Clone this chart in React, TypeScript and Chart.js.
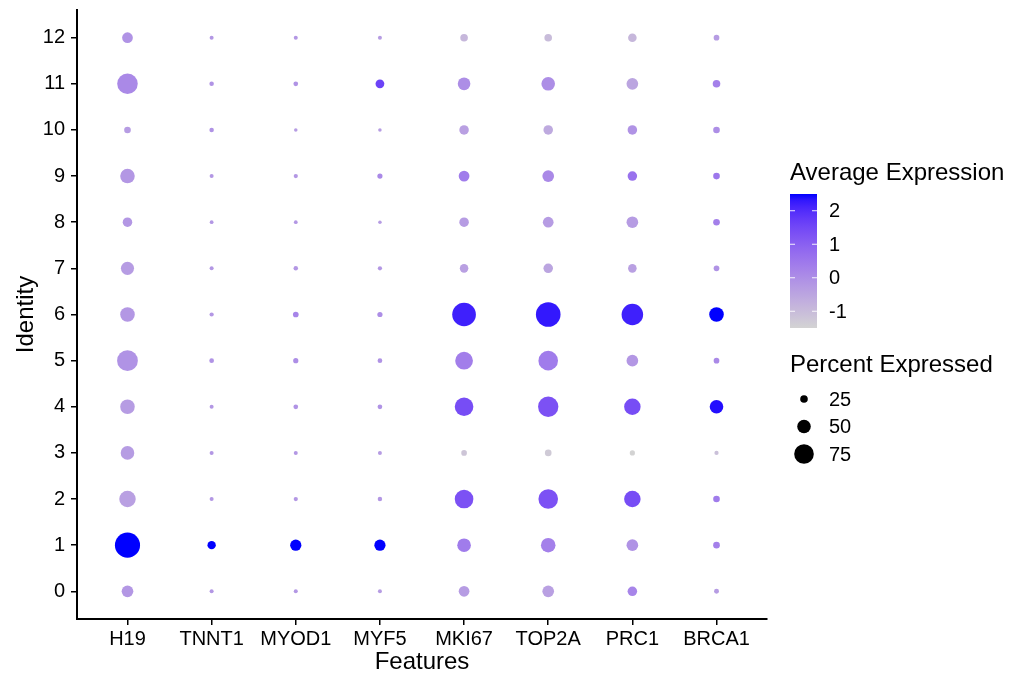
import React, { useEffect, useRef } from "react";
import { Chart, registerables } from "chart.js";

Chart.register(...registerables);

const genes = ["H19", "TNNT1", "MYOD1", "MYF5", "MKI67", "TOP2A", "PRC1", "BRCA1"];
const clusters = [0, 1, 2, 3, 4, 5, 6, 7, 8, 9, 10, 11, 12];

// Percent expressed per cluster (0..12)
const pct_H19 = [42, 98, 62, 50, 54, 80, 54, 48, 33, 54, 21, 79, 38];
const pct_TNNT1 = [10, 28, 10, 10, 10, 13, 11, 10, 9, 10, 12, 12, 10];
const pct_MYOD1 = [10, 40, 11, 10, 13, 15, 17, 12, 9, 11, 8, 13, 10];
const pct_MYF5 = [10, 40, 12, 10, 13, 13, 15, 11, 8, 15, 8, 30, 10];
const pct_MKI67 = [38, 50, 71, 17, 71, 67, 92, 29, 33, 38, 33, 46, 25];
const pct_TOP2A = [42, 54, 75, 21, 78, 75, 96, 33, 38, 42, 33, 50, 25];
const pct_PRC1 = [33, 42, 62, 15, 62, 42, 83, 29, 42, 33, 33, 42, 29];
const pct_BRCA1 = [14, 21, 21, 11, 50, 17, 54, 17, 21, 21, 21, 25, 17];

// Average (scaled) expression per cluster (0..12)
const avg_H19 = [-0.2, 2.5, -0.4, -0.3, -0.3, -0.1, -0.2, -0.3, -0.2, -0.2, -0.3, 0.1, -0.1];
const avg_TNNT1 = [-0.2, 2.5, -0.2, -0.2, -0.2, -0.1, -0.2, -0.2, -0.2, -0.2, -0.1, -0.1, -0.2];
const avg_MYOD1 = [-0.2, 2.5, -0.2, -0.2, -0.1, 0.0, 0.2, -0.2, -0.2, -0.2, -0.3, -0.1, -0.2];
const avg_MYF5 = [-0.3, 2.5, -0.2, -0.3, -0.1, -0.1, 0.0, -0.2, -0.3, 0.1, -0.3, 1.6, -0.3];
const avg_MKI67 = [-0.3, 0.4, 1.3, -1.2, 1.4, 0.35, 2.2, -0.4, -0.3, 0.4, -0.4, 0.0, -0.9];
const avg_TOP2A = [-0.4, 0.3, 1.3, -1.3, 1.3, 0.4, 2.3, -0.5, -0.3, 0.1, -0.6, 0.0, -1.0];
const avg_PRC1 = [0.2, -0.1, 1.4, -1.5, 1.4, -0.2, 2.2, -0.4, -0.3, 0.6, -0.1, -0.5, -0.9];
const avg_BRCA1 = [-0.3, 0.3, 0.4, -1.1, 2.4, 0.1, 2.5, -0.1, 0.3, 0.5, 0.0, 0.3, -0.3];

const pctByGene = [pct_H19, pct_TNNT1, pct_MYOD1, pct_MYF5, pct_MKI67, pct_TOP2A, pct_PRC1, pct_BRCA1];
const avgByGene = [avg_H19, avg_TNNT1, avg_MYOD1, avg_MYF5, avg_MKI67, avg_TOP2A, avg_PRC1, avg_BRCA1];

const colorRange = [-1.5, 2.5];
const colorTicks = [-1, 0, 1, 2];
const sizeBreaks = [25, 50, 75];

const FONT = "'Liberation Sans', Arial, Helvetica, sans-serif";

// ---- colour: lightgrey -> blue interpolated in CIE Lab (like ggplot) ----
function toLab(hex: string) {
  const r0 = parseInt(hex.slice(1, 3), 16) / 255;
  const g0 = parseInt(hex.slice(3, 5), 16) / 255;
  const b0 = parseInt(hex.slice(5, 7), 16) / 255;
  const lin = (c: number) => (c <= 0.04045 ? c / 12.92 : Math.pow((c + 0.055) / 1.055, 2.4));
  const r = lin(r0), g = lin(g0), b = lin(b0);
  const X = (0.4124564 * r + 0.3575761 * g + 0.1804375 * b) / 0.95047;
  const Y = 0.2126729 * r + 0.7151522 * g + 0.072175 * b;
  const Z = (0.0193339 * r + 0.119192 * g + 0.9503041 * b) / 1.08883;
  const d = 6 / 29;
  const f = (t: number) => (t > d * d * d ? Math.cbrt(t) : t / (3 * d * d) + 4 / 29);
  const fx = f(X), fy = f(Y), fz = f(Z);
  return [116 * fy - 16, 500 * (fx - fy), 200 * (fy - fz)];
}
function fromLab(L: number, a: number, bb: number) {
  const d = 6 / 29;
  const fy = (L + 16) / 116;
  const fx = fy + a / 500;
  const fz = fy - bb / 200;
  const finv = (t: number) => (t > d ? t * t * t : 3 * d * d * (t - 4 / 29));
  const X = 0.95047 * finv(fx), Y = finv(fy), Z = 1.08883 * finv(fz);
  const r = 3.2404542 * X - 1.5371385 * Y - 0.4985314 * Z;
  const g = -0.969266 * X + 1.8760108 * Y + 0.041556 * Z;
  const b = 0.0556434 * X - 0.2040259 * Y + 1.0572252 * Z;
  const gam = (c: number) => {
    const v = c <= 0.0031308 ? 12.92 * c : 1.055 * Math.pow(c, 1 / 2.4) - 0.055;
    return Math.round(Math.min(1, Math.max(0, v)) * 255);
  };
  return `rgb(${gam(r)},${gam(g)},${gam(b)})`;
}
const LOW = toLab("#D3D3D3");
const HIGH = toLab("#0000FF");
function colorAt(v: number) {
  let t = (v - colorRange[0]) / (colorRange[1] - colorRange[0]);
  t = Math.min(1, Math.max(0, t));
  return fromLab(LOW[0] + (HIGH[0] - LOW[0]) * t, LOW[1] + (HIGH[1] - LOW[1]) * t, LOW[2] + (HIGH[2] - LOW[2]) * t);
}
function radiusOf(p: number) {
  return 0.8 + 0.12 * p;
}

const points: { x: number; y: number; pct: number; avg: number }[] = [];
genes.forEach((_, gi) => {
  clusters.forEach((c, ci) => {
    points.push({ x: gi, y: c, pct: pctByGene[gi][ci], avg: avgByGene[gi][ci] });
  });
});

const legendPlugin = {
  id: "dotLegend",
  afterDraw(chart: any) {
    const ctx = chart.ctx as CanvasRenderingContext2D;
    ctx.save();
    ctx.fillStyle = "#000";
    ctx.textBaseline = "middle";
    ctx.textAlign = "left";
    ctx.font = `24px ${FONT}`;
    ctx.fillText("Average Expression", 790, 173);

    // colour bar
    const bx = 790, bw = 27, by = 194, bh = 134;
    const grad = ctx.createLinearGradient(0, by + bh, 0, by);
    for (let i = 0; i <= 20; i++) {
      const v = colorRange[0] + ((colorRange[1] - colorRange[0]) * i) / 20;
      grad.addColorStop(i / 20, colorAt(v));
    }
    ctx.fillStyle = grad;
    ctx.fillRect(bx, by, bw, bh);
    ctx.font = `20px ${FONT}`;
    colorTicks.forEach((v) => {
      const y = by + bh - ((v - colorRange[0]) / (colorRange[1] - colorRange[0])) * bh;
      ctx.strokeStyle = "rgba(255,255,255,0.9)";
      ctx.lineWidth = 1;
      ctx.beginPath();
      ctx.moveTo(bx, y);
      ctx.lineTo(bx + 5, y);
      ctx.moveTo(bx + bw - 5, y);
      ctx.lineTo(bx + bw, y);
      ctx.stroke();
      ctx.fillStyle = "#000";
      ctx.fillText(String(v), 829, y + 1);
    });

    ctx.font = `24px ${FONT}`;
    ctx.fillText("Percent Expressed", 790, 365);
    ctx.font = `20px ${FONT}`;
    sizeBreaks.forEach((p, i) => {
      const y = 399 + i * 27.5;
      ctx.fillStyle = "#000";
      ctx.beginPath();
      ctx.arc(804, y, radiusOf(p), 0, Math.PI * 2);
      ctx.fill();
      ctx.fillText(String(p), 829, y + 1);
    });
    ctx.restore();
  },
};

export default function App() {
  const ref = useRef<HTMLCanvasElement | null>(null);
  useEffect(() => {
    if (!ref.current) return;
    Chart.defaults.font.family = FONT;
    const chart = new Chart(ref.current, {
      type: "scatter",
      data: {
        datasets: [
          {
            data: points as any,
            pointRadius: (c: any) => radiusOf(c.raw.pct),
            pointHoverRadius: (c: any) => radiusOf(c.raw.pct),
            pointBackgroundColor: (c: any) => colorAt(c.raw.avg),
            pointBorderWidth: 0,
            pointHoverBorderWidth: 0,
          } as any,
        ],
      },
      options: {
        animation: false,
        responsive: false,
        events: [],
        layout: { autoPadding: false, padding: { left: 0, top: 10, right: 247, bottom: 0 } },
        plugins: { legend: { display: false }, tooltip: { enabled: false } },
        scales: {
          x: {
            type: "linear",
            min: -0.6,
            max: 7.6,
            afterBuildTicks: (s: any) => {
              s.ticks = genes.map((_, i) => ({ value: i }));
            },
            afterFit: (s: any) => {
              s.height = 62;
              s.paddingLeft = 0;
              s.paddingRight = 0;
            },
            ticks: {
              callback: (v: any) => genes[Math.round(Number(v))] ?? "",
              color: "#000",
              font: { size: 20, family: FONT },
              padding: 2,
              maxRotation: 0,
              autoSkip: false,
            },
            grid: { display: true, drawOnChartArea: false, drawTicks: true, tickLength: 6, color: "#000", lineWidth: 1.5 },
            border: { display: true, color: "#000", width: 2 },
            title: {
              display: true,
              text: "Features",
              color: "#000",
              font: { size: 24, family: FONT, lineHeight: 1 },
              padding: { top: 0, bottom: 7 },
            },
          },
          y: {
            type: "linear",
            min: -0.6,
            max: 12.6,
            afterBuildTicks: (s: any) => {
              s.ticks = clusters.map((c) => ({ value: c }));
            },
            afterFit: (s: any) => {
              s.width = 77;
              s.paddingTop = 0;
              s.paddingBottom = 0;
            },
            ticks: {
              callback: (v: any) => String(v),
              color: "#000",
              font: { size: 20, family: FONT },
              padding: 6,
              autoSkip: false,
            },
            grid: { display: true, drawOnChartArea: false, drawTicks: true, tickLength: 6, color: "#000", lineWidth: 1.5 },
            border: { display: true, color: "#000", width: 2 },
            title: {
              display: true,
              text: "Identity",
              color: "#000",
              font: { size: 24, family: FONT, lineHeight: 1 },
              padding: { top: 14, bottom: 0 },
            },
          },
        },
      },
      plugins: [legendPlugin],
    });
    return () => chart.destroy();
  }, []);
  return (
    <div style={{ position: "absolute", left: 0, top: 0, width: 1014, height: 681, background: "#fff" }}>
      <canvas ref={ref} width={1014} height={681} style={{ width: 1014, height: 681, display: "block" }} />
    </div>
  );
}
